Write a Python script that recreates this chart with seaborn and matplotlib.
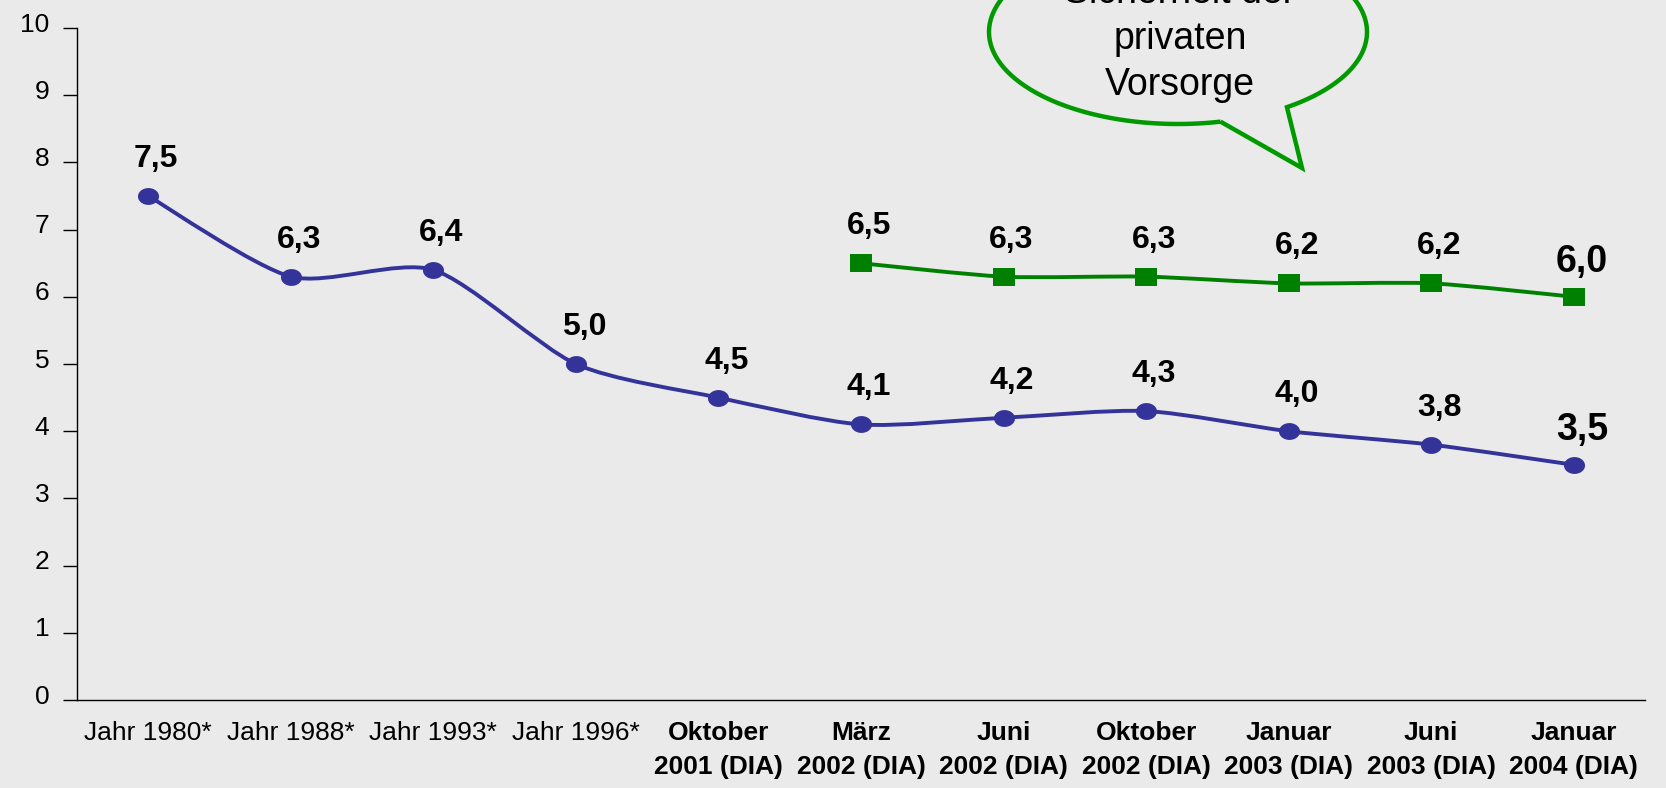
import numpy as np
import pandas as pd
import seaborn as sns
import matplotlib.pyplot as plt
import matplotlib.transforms as mtransforms
from matplotlib.path import Path
from matplotlib.patches import PathPatch

# Chart data
categories = ["Jahr 1980*", "Jahr 1988*", "Jahr 1993*", "Jahr 1996*",
              "Oktober\n2001 (DIA)", "März\n2002 (DIA)", "Juni\n2002 (DIA)",
              "Oktober\n2002 (DIA)", "Januar\n2003 (DIA)", "Juni\n2003 (DIA)",
              "Januar\n2004 (DIA)"]
blue_values = [7.5, 6.3, 6.4, 5.0, 4.5, 4.1, 4.2, 4.3, 4.0, 3.8, 3.5]
green_start = 5  # green series begins at "März 2002 (DIA)"
green_values = [6.5, 6.3, 6.3, 6.2, 6.2, 6.0]
bubble_lines = ["Sicherheit der", "privaten", "Vorsorge"]

BG = "#EAEAEA"
BLUE = "#333399"
GREEN = "#008000"

sns.set_style("white")
plt.rcParams['font.family'] = ['Liberation Sans', 'DejaVu Sans']
plt.rcParams['text.color'] = 'black'
plt.rcParams['xtick.color'] = 'black'
plt.rcParams['ytick.color'] = 'black'

blue_df = pd.DataFrame({"pos": np.arange(len(categories)), "value": blue_values})
green_df = pd.DataFrame({"pos": np.arange(green_start, green_start + len(green_values)),
                         "value": green_values})


def smooth_path(xs, ys, k=8):
    # mild cardinal-spline smoothing like the office "smoothed line" option
    pts = np.column_stack([xs, ys]).astype(float)
    n = len(pts)
    verts = [pts[0]]
    codes = [Path.MOVETO]
    for i in range(n - 1):
        p0 = pts[max(i - 1, 0)]
        p1 = pts[i]
        p2 = pts[i + 1]
        p3 = pts[min(i + 2, n - 1)]
        verts += [p1 + (p2 - p0) / k, p2 - (p3 - p1) / k, p2]
        codes += [Path.CURVE4] * 3
    return Path(verts, codes)


# slightly wide markers, as in the original
t = np.linspace(0, 2 * np.pi, 60)
ellipse_marker = Path(np.column_stack([1.25 * np.cos(t), np.sin(t)]))
rect_marker = Path([(-1.2, -1), (1.2, -1), (1.2, 1), (-1.2, 1), (-1.2, -1)],
                   [Path.MOVETO, Path.LINETO, Path.LINETO, Path.LINETO, Path.CLOSEPOLY])

fig = plt.figure(figsize=(16.66, 7.88), dpi=100, facecolor=BG)
ax = fig.add_axes([77 / 1666, 1 - 700 / 788, (1645 - 77) / 1666, 672 / 788])
ax.set_facecolor(BG)

ax.add_patch(PathPatch(smooth_path(blue_df["pos"], blue_df["value"]), fill=False,
                       edgecolor=BLUE, lw=2.8, zorder=2))
ax.add_patch(PathPatch(smooth_path(green_df["pos"], green_df["value"]), fill=False,
                       edgecolor=GREEN, lw=2.8, zorder=2))
sns.scatterplot(data=blue_df, x="pos", y="value", marker=ellipse_marker, s=230,
                color=BLUE, edgecolor=BLUE, linewidth=0, zorder=3, ax=ax)
sns.scatterplot(data=green_df, x="pos", y="value", marker=rect_marker, s=250,
                color=GREEN, edgecolor=GREEN, linewidth=0, zorder=3, ax=ax)

# value labels
def fmt(v):
    return f"{v:.1f}".replace(".", ",")

for df in (blue_df, green_df):
    last = len(df) - 1
    for i, (x, y) in enumerate(zip(df["pos"], df["value"])):
        big = i == last
        ax.annotate(fmt(y), (x, y), xytext=(8, 35 if big else 37),
                    textcoords="offset pixels", ha="center", va="center",
                    fontsize=27 if big else 23, fontweight="bold", color="black", zorder=4)

ax.set_xlim(-0.5, len(categories) - 0.5)
ax.set_ylim(0, 10)
ax.set_yticks(range(0, 11))
ax.set_xticks(range(len(categories)))
ax.set_xticklabels(categories, fontsize=19, linespacing=1.55)
for i, lab in enumerate(ax.get_xticklabels()):
    if i >= 4:
        lab.set_fontweight("bold")
ax.set_xticks(np.arange(-0.5, len(categories), 1), minor=True)
ax.tick_params(axis="x", which="major", length=0, pad=15)
ax.tick_params(axis="x", which="minor", length=9.5, width=1, color="black", direction="out")
ax.tick_params(axis="y", length=10, width=1, color="black", direction="out", pad=10,
               labelsize=19, left=True)
shift = mtransforms.ScaledTranslation(0, 6 / 100, fig.dpi_scale_trans)
for lab in ax.get_yticklabels():
    lab.set_transform(lab.get_transform() + shift)
ax.set_xlabel("")
ax.set_ylabel("")

for side in ("top", "right"):
    ax.spines[side].set_visible(False)
for side in ("left", "bottom"):
    ax.spines[side].set_color("black")
    ax.spines[side].set_linewidth(1)

# speech bubble (figure pixel coordinates, y measured from the top)
cx, cy, a, b = 1178, 32, 189, 92
ang = np.linspace(np.radians(77), np.radians(360 + 54.8), 200)
bx = list(cx + a * np.cos(ang)) + [1302, cx + a * np.cos(np.radians(77))]
by = list(cy + b * np.sin(ang)) + [168, cy + b * np.sin(np.radians(77))]
bverts = np.column_stack([np.array(bx) / 1666, 1 - np.array(by) / 788])
bubble = PathPatch(Path(bverts), facecolor=BG, edgecolor="#009900", lw=3.2,
                   transform=fig.transFigure, zorder=5)
fig.add_artist(bubble)
for k, line in enumerate(bubble_lines):
    fig.text(1180 / 1666, 1 - (-7 + 46 * k) / 788, line, ha="center", va="center",
             fontsize=27, color="black", zorder=6)

plt.savefig("out.png", dpi=100, facecolor=BG)
